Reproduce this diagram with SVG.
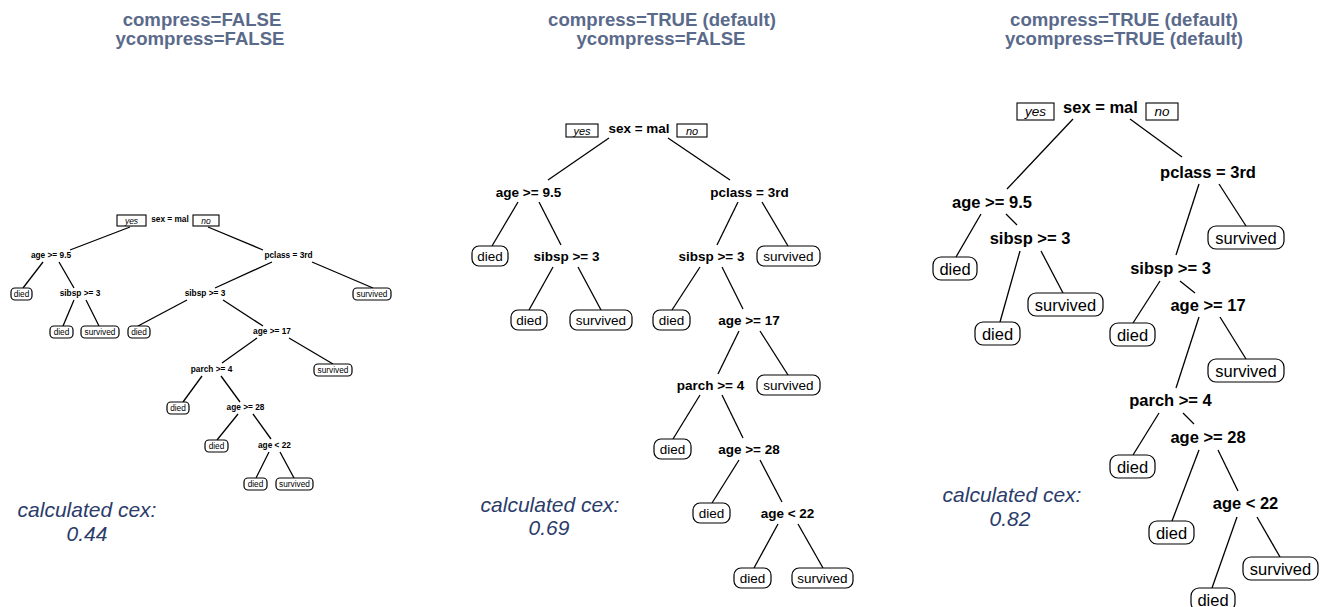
<svg xmlns="http://www.w3.org/2000/svg" width="1325" height="607" viewBox="0 0 1325 607">
<style>
text{font-family:"Liberation Sans",Arial,Helvetica,sans-serif;text-anchor:middle;dominant-baseline:central;fill:#000}
.title{font-weight:bold;font-size:18.6px;fill:#5a6a8b;dominant-baseline:alphabetic}
.cex{font-style:italic;font-size:21px;fill:#2b3c6a;dominant-baseline:alphabetic}
.sp1{font-weight:bold;font-size:8.3px}
.sp2{font-weight:bold;font-size:13.5px}
.sp3{font-weight:bold;font-size:16.5px}
.lf1{font-size:8.3px}
.lf2{font-size:13.5px}
.lf3{font-size:16.5px}
.yn1{font-style:italic;font-size:8.5px}
.yn2{font-style:italic;font-size:11px}
.yn3{font-style:italic;font-size:13.5px}
.box{fill:#fff;stroke:#000;stroke-width:1.2}
.ynb{fill:#fff;stroke:#000;stroke-width:1.1}
#connectors line{stroke:#000;stroke-width:1.3}
</style>

<g id="titles">
<text class="title" x="202" y="25.5">compress=FALSE</text>
<text class="title" x="200" y="45">ycompress=FALSE</text>
<text class="title" x="662" y="25.5">compress=TRUE (default)</text>
<text class="title" x="661" y="45">ycompress=FALSE</text>
<text class="title" x="1124" y="25.5">compress=TRUE (default)</text>
<text class="title" x="1124" y="45">ycompress=TRUE (default)</text>
</g>

<g id="cex-labels">
<text class="cex" x="87" y="517">calculated cex:</text>
<text class="cex" x="87" y="541">0.44</text>
<text class="cex" x="550" y="512">calculated cex:</text>
<text class="cex" x="549" y="535">0.69</text>
<text class="cex" x="1012" y="502">calculated cex:</text>
<text class="cex" x="1010" y="526">0.82</text>
</g>

<g id="connectors">
<!-- panel 1 -->
<line x1="130" y1="227" x2="70" y2="250"/>
<line x1="208" y1="227" x2="263" y2="250"/>
<line x1="43" y1="262" x2="23" y2="288"/>
<line x1="59" y1="262" x2="74" y2="288"/>
<line x1="272" y1="262" x2="215" y2="288"/>
<line x1="312" y1="262" x2="373" y2="288"/>
<line x1="74" y1="300" x2="63" y2="326"/>
<line x1="86" y1="300" x2="99" y2="326"/>
<line x1="187" y1="300" x2="138" y2="326"/>
<line x1="223" y1="300" x2="263" y2="326"/>
<line x1="257" y1="338" x2="222" y2="363"/>
<line x1="289" y1="338" x2="333" y2="364"/>
<line x1="202" y1="376" x2="183" y2="402"/>
<line x1="221" y1="376" x2="240" y2="402"/>
<line x1="238" y1="414" x2="217" y2="440"/>
<line x1="253" y1="414" x2="271" y2="439"/>
<line x1="269" y1="452" x2="256" y2="478"/>
<line x1="280" y1="452" x2="294" y2="478"/>
<!-- panel 2 -->
<line x1="609" y1="138" x2="548" y2="180"/>
<line x1="668" y1="138" x2="730" y2="180"/>
<line x1="518" y1="202" x2="492" y2="246"/>
<line x1="539" y1="202" x2="561" y2="245"/>
<line x1="738" y1="202" x2="717" y2="245"/>
<line x1="762" y1="202" x2="788" y2="246"/>
<line x1="553" y1="267" x2="529" y2="310"/>
<line x1="578" y1="267" x2="601" y2="310"/>
<line x1="700" y1="267" x2="672" y2="310"/>
<line x1="722" y1="267" x2="743" y2="309"/>
<line x1="739" y1="331" x2="718" y2="374"/>
<line x1="760" y1="331" x2="788" y2="375"/>
<line x1="700" y1="395" x2="673" y2="439"/>
<line x1="722" y1="395" x2="743" y2="438"/>
<line x1="739" y1="460" x2="712" y2="503"/>
<line x1="760" y1="460" x2="782" y2="502"/>
<line x1="778" y1="524" x2="754" y2="568"/>
<line x1="798" y1="524" x2="823" y2="568"/>
<!-- panel 3 -->
<line x1="1073" y1="119" x2="1007" y2="189"/>
<line x1="1130" y1="119" x2="1182" y2="157"/>
<line x1="981" y1="214" x2="956" y2="257"/>
<line x1="1006" y1="214" x2="1017" y2="225"/>
<line x1="1199" y1="184" x2="1176" y2="255"/>
<line x1="1219" y1="184" x2="1246" y2="226"/>
<line x1="1020" y1="251" x2="1000" y2="322"/>
<line x1="1041" y1="251" x2="1063" y2="293"/>
<line x1="1160" y1="281" x2="1133" y2="323"/>
<line x1="1180" y1="281" x2="1195" y2="293"/>
<line x1="1199" y1="317" x2="1176" y2="388"/>
<line x1="1220" y1="317" x2="1246" y2="359"/>
<line x1="1159" y1="413" x2="1133" y2="455"/>
<line x1="1183" y1="413" x2="1194" y2="424"/>
<line x1="1199" y1="450" x2="1172" y2="521"/>
<line x1="1218" y1="450" x2="1238" y2="491"/>
<line x1="1237" y1="517" x2="1212" y2="588"/>
<line x1="1257" y1="517" x2="1280" y2="557"/>
</g>

<!-- ================= panel 1 ================= -->
<g id="p1-root">
<rect class="ynb" x="117" y="215" width="29" height="11"/>
<text class="yn1" x="131.5" y="220.5">yes</text>
<text class="sp1" x="170" y="219">sex = mal</text>
<rect class="ynb" x="193" y="215" width="26" height="11"/>
<text class="yn1" x="206" y="220.5">no</text>
</g>
<g id="p1-age95"><text class="sp1" x="51" y="255">age &gt;= 9.5</text></g>
<g id="p1-pclass"><text class="sp1" x="288.5" y="255">pclass = 3rd</text></g>
<g id="p1-died1"><rect class="box" x="11" y="288" width="21" height="12" rx="4"/><text class="lf1" x="21.5" y="294">died</text></g>
<g id="p1-sibsp1"><text class="sp1" x="80" y="293">sibsp &gt;= 3</text></g>
<g id="p1-sibsp2"><text class="sp1" x="205" y="293">sibsp &gt;= 3</text></g>
<g id="p1-surv1"><rect class="box" x="353" y="288" width="38" height="12" rx="4"/><text class="lf1" x="372" y="294">survived</text></g>
<g id="p1-died2"><rect class="box" x="50" y="326" width="23" height="12" rx="4"/><text class="lf1" x="61.5" y="332">died</text></g>
<g id="p1-surv2"><rect class="box" x="81" y="326" width="38" height="12" rx="4"/><text class="lf1" x="100" y="332">survived</text></g>
<g id="p1-died3"><rect class="box" x="128" y="326" width="22" height="12" rx="4"/><text class="lf1" x="139" y="332">died</text></g>
<g id="p1-age17"><text class="sp1" x="272" y="331">age &gt;= 17</text></g>
<g id="p1-parch"><text class="sp1" x="211.5" y="369">parch &gt;= 4</text></g>
<g id="p1-surv3"><rect class="box" x="314" y="364" width="38" height="12" rx="4"/><text class="lf1" x="333" y="370">survived</text></g>
<g id="p1-died4"><rect class="box" x="167" y="402" width="22" height="12" rx="4"/><text class="lf1" x="178" y="408">died</text></g>
<g id="p1-age28"><text class="sp1" x="245.5" y="407">age &gt;= 28</text></g>
<g id="p1-died5"><rect class="box" x="205" y="440" width="23" height="12" rx="4"/><text class="lf1" x="216.5" y="446">died</text></g>
<g id="p1-age22"><text class="sp1" x="274.5" y="445">age &lt; 22</text></g>
<g id="p1-died6"><rect class="box" x="244" y="478" width="23" height="12" rx="4"/><text class="lf1" x="255.5" y="484">died</text></g>
<g id="p1-surv4"><rect class="box" x="276" y="478" width="37" height="12" rx="4"/><text class="lf1" x="294.5" y="484">survived</text></g>

<!-- ================= panel 2 ================= -->
<g id="p2-root">
<rect class="ynb" x="566" y="124" width="32" height="13"/>
<text class="yn2" x="582" y="130.5">yes</text>
<text class="sp2" x="639" y="128">sex = mal</text>
<rect class="ynb" x="677" y="124" width="30" height="13"/>
<text class="yn2" x="692" y="130.5">no</text>
</g>
<g id="p2-age95"><text class="sp2" x="528.5" y="192">age &gt;= 9.5</text></g>
<g id="p2-pclass"><text class="sp2" x="749.5" y="192">pclass = 3rd</text></g>
<g id="p2-died1"><rect class="box" x="472" y="246" width="36" height="20" rx="7"/><text class="lf2" x="490" y="256">died</text></g>
<g id="p2-sibsp1"><text class="sp2" x="566.5" y="256">sibsp &gt;= 3</text></g>
<g id="p2-sibsp2"><text class="sp2" x="711.5" y="256">sibsp &gt;= 3</text></g>
<g id="p2-surv1"><rect class="box" x="757" y="246" width="63" height="20" rx="7"/><text class="lf2" x="788.5" y="256">survived</text></g>
<g id="p2-died2"><rect class="box" x="511" y="310" width="36" height="20" rx="7"/><text class="lf2" x="529" y="320">died</text></g>
<g id="p2-surv2"><rect class="box" x="570" y="310" width="62" height="20" rx="7"/><text class="lf2" x="601" y="320">survived</text></g>
<g id="p2-died3"><rect class="box" x="653" y="310" width="37" height="20" rx="7"/><text class="lf2" x="671.5" y="320">died</text></g>
<g id="p2-age17"><text class="sp2" x="749" y="320">age &gt;= 17</text></g>
<g id="p2-parch"><text class="sp2" x="710.5" y="385">parch &gt;= 4</text></g>
<g id="p2-surv3"><rect class="box" x="757" y="375" width="63" height="20" rx="7"/><text class="lf2" x="788.5" y="385">survived</text></g>
<g id="p2-died4"><rect class="box" x="654" y="439" width="37" height="20" rx="7"/><text class="lf2" x="672.5" y="449">died</text></g>
<g id="p2-age28"><text class="sp2" x="749" y="449">age &gt;= 28</text></g>
<g id="p2-died5"><rect class="box" x="693" y="503" width="37" height="20" rx="7"/><text class="lf2" x="711.5" y="513">died</text></g>
<g id="p2-age22"><text class="sp2" x="787.5" y="513">age &lt; 22</text></g>
<g id="p2-died6"><rect class="box" x="734" y="568" width="37" height="20" rx="7"/><text class="lf2" x="752.5" y="578">died</text></g>
<g id="p2-surv4"><rect class="box" x="792" y="568" width="61" height="20" rx="7"/><text class="lf2" x="822.5" y="578">survived</text></g>

<!-- ================= panel 3 ================= -->
<g id="p3-root">
<rect class="ynb" x="1017" y="103" width="37" height="17"/>
<text class="yn3" x="1035.5" y="111.5">yes</text>
<text class="sp3" x="1100.5" y="107">sex = mal</text>
<rect class="ynb" x="1146" y="103" width="32" height="17"/>
<text class="yn3" x="1162" y="111.5">no</text>
</g>
<g id="p3-age95"><text class="sp3" x="992" y="202">age &gt;= 9.5</text></g>
<g id="p3-pclass"><text class="sp3" x="1208" y="172">pclass = 3rd</text></g>
<g id="p3-died1"><rect class="box" x="933" y="257" width="44" height="23" rx="8"/><text class="lf3" x="955" y="268.5">died</text></g>
<g id="p3-sibsp1"><text class="sp3" x="1030" y="238">sibsp &gt;= 3</text></g>
<g id="p3-surv1"><rect class="box" x="1208" y="226" width="76" height="23" rx="8"/><text class="lf3" x="1246" y="237.5">survived</text></g>
<g id="p3-sibsp2"><text class="sp3" x="1170.5" y="268">sibsp &gt;= 3</text></g>
<g id="p3-died2"><rect class="box" x="975" y="322" width="45" height="23" rx="8"/><text class="lf3" x="997.5" y="333.5">died</text></g>
<g id="p3-surv2"><rect class="box" x="1028" y="293" width="75" height="23" rx="8"/><text class="lf3" x="1065.5" y="304.5">survived</text></g>
<g id="p3-died3"><rect class="box" x="1110" y="323" width="45" height="23" rx="8"/><text class="lf3" x="1132.5" y="334.5">died</text></g>
<g id="p3-age17"><text class="sp3" x="1208" y="305">age &gt;= 17</text></g>
<g id="p3-surv3"><rect class="box" x="1208" y="359" width="76" height="23" rx="8"/><text class="lf3" x="1246" y="370.5">survived</text></g>
<g id="p3-parch"><text class="sp3" x="1170.5" y="400">parch &gt;= 4</text></g>
<g id="p3-died4"><rect class="box" x="1110" y="455" width="45" height="23" rx="8"/><text class="lf3" x="1132.5" y="466.5">died</text></g>
<g id="p3-age28"><text class="sp3" x="1208" y="437">age &gt;= 28</text></g>
<g id="p3-died5"><rect class="box" x="1149" y="521" width="45" height="23" rx="8"/><text class="lf3" x="1171.5" y="532.5">died</text></g>
<g id="p3-age22"><text class="sp3" x="1245.5" y="503">age &lt; 22</text></g>
<g id="p3-surv4"><rect class="box" x="1243" y="557" width="75" height="23" rx="8"/><text class="lf3" x="1280.5" y="568.5">survived</text></g>
<g id="p3-died6"><rect class="box" x="1191" y="588" width="44" height="23" rx="8"/><text class="lf3" x="1213" y="599.5">died</text></g>
</svg>
